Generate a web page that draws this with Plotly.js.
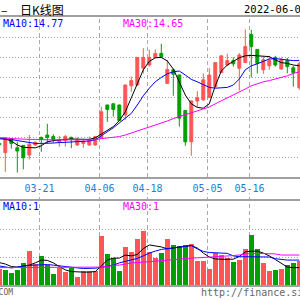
<!DOCTYPE html>
<html><head><meta charset="utf-8">
<script src="https://cdn.plot.ly/plotly-3.0.1.min.js"></script>
<style>html,body{margin:0;padding:0;background:#fff;}#chart{width:300px;height:300px;}</style>
</head><body><div id="chart"></div>
<script>
const dates = ['03-10','03-11','03-14','03-15','03-16','03-17','03-18','03-21','03-22','03-23','03-24','03-25','03-28','03-29','03-30','03-31','04-01','04-06','04-07','04-08','04-11','04-12','04-13','04-14','04-15','04-18','04-19','04-20','04-21','04-22','04-25','04-26','04-27','04-28','04-29','05-05','05-06','05-09','05-10','05-11','05-12','05-13','05-16','05-17','05-18','05-19','05-20','05-23','05-24','05-25','05-26'];
const open  = [12.84,12.61,12.95,12.73,12.79,12.55,12.80,12.99,13.05,13.01,12.88,12.91,12.99,12.80,12.84,12.80,12.80,12.97,13.80,13.83,13.80,13.55,14.28,14.30,14.72,14.80,14.99,15.09,14.34,14.68,14.55,13.66,12.88,13.90,13.93,13.99,14.26,14.61,14.80,14.91,14.72,14.86,15.56,15.19,14.68,14.78,14.99,14.70,14.91,14.73,14.23];
const high  = [12.86,12.97,12.97,12.88,12.80,13.05,12.88,13.01,13.33,13.07,13.03,13.05,13.01,12.99,12.93,13.01,13.03,13.76,13.81,13.84,13.81,14.31,14.51,15.00,15.22,15.18,15.19,15.33,14.93,14.69,14.56,13.68,13.91,14.15,14.59,14.72,14.86,15.03,15.08,14.99,15.10,15.69,15.68,15.20,15.01,15.03,15.03,14.99,14.98,14.78,14.88];
const low   = [12.79,12.13,12.71,12.11,12.19,12.44,12.78,12.63,12.84,12.86,12.76,12.76,12.72,12.78,12.73,12.78,12.78,12.95,13.38,13.51,13.40,13.43,14.13,14.28,14.59,14.76,14.98,14.97,14.33,14.03,13.26,12.78,12.53,13.75,13.90,13.98,14.23,14.60,14.78,14.76,14.16,14.85,14.49,14.59,14.58,14.68,14.76,14.68,14.59,14.26,14.18];
const close = [12.81,12.97,12.84,12.65,12.48,12.82,12.87,12.94,12.99,12.94,12.92,13.01,12.96,12.93,12.88,12.93,13.01,13.63,13.69,13.69,13.41,14.30,14.41,14.99,14.99,14.99,15.09,15.01,14.69,14.57,13.47,12.88,13.90,13.98,14.43,14.55,14.86,15.03,14.91,14.83,15.05,15.26,15.26,14.84,14.93,14.91,14.80,14.94,14.76,14.61,14.83];
const ma5  = [12.96,12.95,12.90,12.80,12.74,12.73,12.73,12.78,12.88,12.91,12.93,12.94,12.95,12.95,12.94,12.94,12.98,13.08,13.18,13.26,13.41,13.63,13.98,14.33,14.68,14.89,14.98,14.99,14.90,14.70,14.38,14.05,13.83,13.74,13.72,13.83,14.28,14.65,14.80,14.89,14.98,15.03,15.04,15.03,15.02,15.01,14.93,14.86,14.84,14.80,14.78];
const ma10 = [12.96,12.95,12.94,12.91,12.89,12.86,12.84,12.84,12.84,12.85,12.86,12.87,12.88,12.89,12.89,12.90,12.93,13.04,13.13,13.23,13.35,13.45,13.59,13.80,14.03,14.22,14.38,14.49,14.58,14.63,14.65,14.55,14.44,14.38,14.30,14.24,14.22,14.23,14.24,14.30,14.45,14.68,14.78,14.83,14.90,14.95,14.96,14.94,14.93,14.91,14.91];
const ma30 = [12.98,12.98,12.96,12.95,12.94,12.94,12.94,12.93,12.93,12.93,12.93,12.93,12.93,12.93,12.93,12.93,12.93,12.96,12.98,12.99,13.01,13.05,13.10,13.14,13.19,13.24,13.29,13.34,13.40,13.46,13.51,13.55,13.60,13.65,13.70,13.75,13.83,13.90,13.98,14.04,14.11,14.20,14.28,14.33,14.38,14.41,14.45,14.49,14.53,14.59,14.63];
const volume = [0.58,0.55,0.43,0.52,0.79,1.21,0.75,1.04,0.70,0.39,0.61,0.46,0.62,0.30,0.50,0.50,0.50,1.75,1.10,0.95,0.50,1.36,1.18,1.63,1.93,1.18,0.98,1.14,1.64,1.42,1.41,1.42,1.45,0.86,0.86,0.57,1.15,1.06,0.98,0.82,0.90,1.29,1.79,1.29,0.80,0.50,0.54,0.57,0.71,0.80,0.86];
const volUp  = [1,0,0,0,0,1,1,0,0,0,1,1,0,1,1,1,1,1,0,0,0,1,1,1,1,1,1,0,1,0,0,0,1,1,1,1,1,1,1,0,1,1,0,0,1,1,0,1,0,0,1];
const volMa5  = [0.80,0.75,0.66,0.64,0.68,0.71,0.79,0.89,0.88,0.79,0.66,0.54,0.48,0.46,0.46,0.46,0.48,0.68,0.89,0.96,0.96,1.07,1.04,1.09,1.30,1.43,1.39,1.36,1.29,1.32,1.37,1.39,1.41,1.32,1.14,1.00,0.93,0.92,0.92,0.92,1.02,1.18,1.21,1.21,1.14,1.04,0.91,0.79,0.64,0.62,0.62];
const volMa10 = [0.68,0.64,0.61,0.64,0.68,0.70,0.71,0.73,0.73,0.71,0.68,0.65,0.63,0.61,0.59,0.59,0.60,0.63,0.68,0.71,0.79,0.84,0.88,0.95,1.04,1.14,1.21,1.27,1.30,1.33,1.36,1.39,1.41,1.29,1.20,1.16,1.15,1.14,1.13,1.04,1.01,1.01,1.01,1.01,1.00,1.00,0.94,0.91,0.89,0.89,0.89];
const volMa30 = [0.62,0.62,0.62,0.62,0.62,0.62,0.62,0.62,0.62,0.62,0.62,0.62,0.62,0.62,0.62,0.62,0.62,0.64,0.66,0.70,0.71,0.75,0.79,0.80,0.82,0.84,0.86,0.88,0.89,0.91,0.93,0.95,0.96,0.97,0.98,0.99,1.00,1.02,1.04,1.05,1.07,1.11,1.13,1.13,1.13,1.13,1.11,1.07,1.07,1.07,1.07];
const tickLabels = ['03-21','04-06','04-18','05-05','05-16'];
const titleText = '日K线图';
const chartDate = '2022-06-09';
const priceMa10Label = 'MA10:14.77';
const priceMa30Label = 'MA30:14.65';
const volMa10Label = 'MA10:1';
const volMa30Label = 'MA30:1';
const footLeft = 'FINANCE.SINA.COM';
const footRight = 'http://finance.sina.com.cn';

const W = 300, H = 300;
const fx = v => v / W, fy = v => 1 - v / H;
const UP = '#ff5555', DOWN = '#00a000', GRID = '#a0a0a0';
const MONO = 'DejaVu Sans Mono';
const idx = dates.map((d, i) => i);
const tickPos = tickLabels.map(d => dates.indexOf(d) - 0.3);

function maLine(y, color, xa, ya) {
  return {type: 'scatter', mode: 'lines', x: idx, y: y, xaxis: xa, yaxis: ya,
    line: {color: color, width: 1}, hoverinfo: 'skip', showlegend: false};
}

const data = [
  {type: 'candlestick', x: idx, open: open, high: high, low: low, close: close,
   xaxis: 'x', yaxis: 'y', whiskerwidth: 0, hoverinfo: 'skip', showlegend: false,
   increasing: {line: {color: UP, width: 1}, fillcolor: UP},
   decreasing: {line: {color: DOWN, width: 1}, fillcolor: DOWN}},
  maLine(ma5, '#000000', 'x', 'y'),
  maLine(ma10, '#0000ff', 'x', 'y'),
  maLine(ma30, '#ff00ff', 'x', 'y'),
  {type: 'bar', x: idx, y: volume, xaxis: 'x2', yaxis: 'y2', width: 0.8,
   marker: {color: volUp.map(u => u ? UP : DOWN), line: {width: 0}},
   hoverinfo: 'skip', showlegend: false},
  maLine(volMa5, '#000000', 'x2', 'y2'),
  maLine(volMa10, '#0000ff', 'x2', 'y2'),
  maLine(volMa30, '#ff00ff', 'x2', 'y2')
];

const xr = [0.7 / 6, 300.7 / 6];
const shapes = [];
tickPos.forEach(t => {
  shapes.push({type: 'line', xref: 'x', yref: 'paper', x0: t, x1: t, y0: fy(177), y1: fy(17),
    line: {color: '#aaaaaa', width: 1, dash: '4px,3px'}, layer: 'below'});
  shapes.push({type: 'line', xref: 'x', yref: 'paper', x0: t, x1: t, y0: fy(285), y1: fy(193),
    line: {color: '#aaaaaa', width: 1, dash: '4px,3px'}, layer: 'below'});
});

function ann(text, x, y, anchor, size, color, family) {
  return {text: text, xref: 'paper', yref: 'paper', x: fx(x), y: fy(y), xanchor: anchor, yanchor: 'middle',
    showarrow: false, borderpad: 0, font: {family: family || MONO, size: size, color: color}};
}

const layout = {
  width: W, height: H, margin: {l: 0, r: 0, t: 0, b: 0},
  paper_bgcolor: '#ffffff', plot_bgcolor: '#ffffff',
  showlegend: false, boxgap: 0.3, bargap: 0,
  font: {family: MONO, size: 10, color: '#000'},
  xaxis: {domain: [0, 1], anchor: 'y', range: xr, showgrid: false, zeroline: false,
    showline: true, mirror: true, linecolor: GRID, linewidth: 2,
    tickmode: 'array', tickvals: tickPos, ticktext: tickLabels,
    ticks: 'outside', ticklen: 1, tickcolor: 'rgba(0,0,0,0)',
    tickfont: {family: MONO, size: 10, color: '#1a80d8'},
    rangeslider: {visible: false}, fixedrange: true},
  yaxis: {domain: [fy(177), fy(17)], anchor: 'x', range: [12, 16], dtick: 0.5, tick0: 12,
    showticklabels: false, ticks: '', zeroline: false, showline: false,
    showgrid: true, gridcolor: GRID, gridwidth: 1, griddash: '1px,2px'},
  xaxis2: {domain: [0, 1], anchor: 'y2', range: xr, showgrid: false, zeroline: false,
    showline: true, mirror: true, linecolor: GRID, linewidth: 2,
    showticklabels: false, ticks: ''},
  yaxis2: {domain: [fy(285), fy(201)], anchor: 'x2', range: [0, 3], dtick: 1, tick0: 0,
    showticklabels: false, ticks: '', zeroline: false, showline: false,
    showgrid: true, gridcolor: GRID, gridwidth: 1, griddash: '1px,2px'},
  shapes: shapes,
  annotations: [
    ann('–', -0.5, 9.5, 'left', 12, '#000', 'Noto Sans CJK SC'),
    ann(titleText, 19, 9.5, 'left', 12, '#000', 'Noto Sans CJK SC'),
    ann(chartDate, 242.5, 9.5, 'left', 10.5, '#000'),
    ann(priceMa10Label, 1.5, 24, 'left', 10, '#0000ff'),
    ann(priceMa30Label, 121.5, 24, 'left', 10, '#ff00ff'),
    ann(volMa10Label, 1.5, 206.5, 'left', 10, '#0000ff'),
    ann(volMa30Label, 121.5, 206.5, 'left', 10, '#ff00ff'),
    ann(footLeft, 14, 292, 'right', 8, '#666666'),
    ann(footRight, 200, 292, 'left', 10, '#666666')
  ]
};

Plotly.newPlot('chart', data, layout, {staticPlot: true, displayModeBar: false});
</script>
</body></html>
